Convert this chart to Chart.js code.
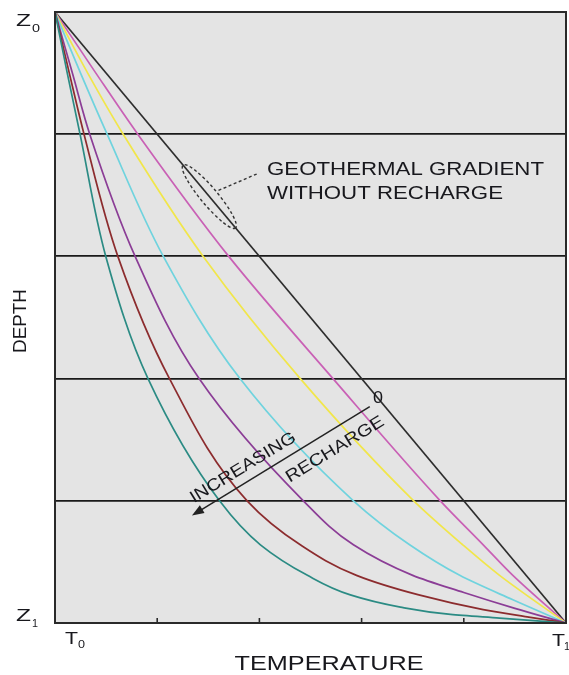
<!DOCTYPE html>
<html>
<head>
<meta charset="utf-8">
<script src="https://cdn.jsdelivr.net/npm/chart.js@4.4.1/dist/chart.umd.min.js"></script>
<style>
  body { margin: 0; background: #fff; }
  #wrap { width: 569px; height: 675px; position: relative; }
</style>
</head>
<body>
<div id="wrap"><canvas id="grafica"></canvas></div>
<script>
// depth (0 = Z0, 5 = Z1) and temperature (0 = T0, 5 = T1)
var depthTeal = [0, 0.5, 1, 2, 3, 4, 4.36, 4.61, 4.77, 4.87, 4.93, 4.96, 5];
var tempTeal  = [0, 0.12, 0.245, 0.497, 0.91, 1.61, 2.01, 2.47, 2.89, 3.38, 3.87, 4.35, 5];

var depthBrown = [0, 0.5, 1, 2, 3, 4, 4.36, 4.61, 4.77, 4.89, 4.95, 5];
var tempBrown  = [0, 0.14, 0.284, 0.615, 1.12, 1.88, 2.4, 2.95, 3.56, 4.19, 4.62, 5];

var depthPurple = [0, 0.5, 1, 2, 3, 4, 4.36, 4.61, 4.75, 4.88, 5];
var tempPurple  = [0, 0.17, 0.34, 0.784, 1.41, 2.43, 2.92, 3.5, 4.0, 4.5, 5];

var depthCyan = [0, 0.5, 1, 2, 3, 4, 4.36, 4.61, 4.81, 5];
var tempCyan  = [0, 0.25, 0.51, 1.06, 1.81, 2.92, 3.47, 3.96, 4.48, 5];

var depthYellow = [0, 0.5, 1, 2, 3, 4, 4.36, 4.61, 5];
var tempYellow  = [0, 0.32, 0.667, 1.45, 2.4, 3.51, 3.99, 4.35, 5];

var depthMagenta = [0, 0.5, 1, 2, 3, 4, 4.36, 4.61, 5];
var tempMagenta  = [0, 0.4, 0.81, 1.7, 2.72, 3.77, 4.19, 4.48, 5];

var depthBlack = [0, 5];
var tempBlack  = [0, 5];

function pts(depth, temp) {
  var out = [];
  for (var i = 0; i < depth.length; i++) {
    out.push({ x: temp[i], y: depth[i] });
  }
  return out;
}

function curve(depth, temp, color) {
  return {
    data: pts(depth, temp),
    showLine: true,
    borderColor: color,
    borderWidth: 1.7,
    pointRadius: 0,
    cubicInterpolationMode: 'monotone',
    fill: false
  };
}

var FONT = '"Liberation Sans", Arial, sans-serif';
var INK = '#18181d';

// text helper: stretches the text to a given width like in the scanned figure
function txt(ctx, s, x, y, size, width, align, base, rot) {
  ctx.font = size + 'px ' + FONT;
  var w = ctx.measureText(s).width;
  var sx = width ? width / w : 1;
  ctx.save();
  ctx.translate(x, y);
  if (rot) ctx.rotate(rot);
  ctx.scale(sx, 1);
  ctx.textAlign = align || 'left';
  ctx.textBaseline = base || 'alphabetic';
  ctx.fillStyle = INK;
  ctx.fillText(s, 0, 0);
  ctx.restore();
}

var decor = {
  id: 'decor',
  beforeDraw: function(chart) {
    var a = chart.chartArea, ctx = chart.ctx;
    ctx.save();
    ctx.fillStyle = '#e4e4e4';
    ctx.fillRect(a.left, a.top, a.right - a.left, a.bottom - a.top);
    ctx.restore();
  },
  afterDraw: function(chart) {
    var a = chart.chartArea, ctx = chart.ctx;
    var xs = chart.scales.x, ys = chart.scales.y;
    function px(t) { return xs.getPixelForValue(t); }
    function py(d) { return ys.getPixelForValue(d); }

    ctx.save();
    // frame
    ctx.strokeStyle = '#2a2a2a';
    ctx.lineWidth = 2;
    ctx.strokeRect(a.left, a.top, a.right - a.left, a.bottom - a.top);
    // small inner ticks on the temperature axis
    ctx.lineWidth = 1.6;
    for (var t = 1; t <= 4; t++) {
      ctx.beginPath();
      ctx.moveTo(px(t), a.bottom);
      ctx.lineTo(px(t), a.bottom - 5);
      ctx.stroke();
    }

    // dashed ellipse around the straight gradient
    var ang = Math.atan2(py(1) - py(0), px(1) - px(0));
    ctx.setLineDash([3, 2.5]);
    ctx.strokeStyle = '#333';
    ctx.lineWidth = 1.4;
    ctx.beginPath();
    ctx.ellipse(px(1.51), py(1.51), 41, 8.5, ang, 0, Math.PI * 2);
    ctx.stroke();
    ctx.beginPath();
    ctx.moveTo(px(1.6), py(1.46));
    ctx.lineTo(px(1.99), py(1.32));
    ctx.stroke();
    ctx.setLineDash([]);

    // arrow "increasing recharge"
    var x0 = px(3.08), y0 = py(3.23), x1 = px(1.34), y1 = py(4.12);
    var aa = Math.atan2(y1 - y0, x1 - x0);
    ctx.strokeStyle = '#222';
    ctx.fillStyle = '#222';
    ctx.lineWidth = 1.5;
    ctx.beginPath();
    ctx.moveTo(x0, y0);
    ctx.lineTo(x1 - 8 * Math.cos(aa), y1 - 8 * Math.sin(aa));
    ctx.stroke();
    ctx.beginPath();
    ctx.moveTo(x1, y1);
    ctx.lineTo(x1 - 12 * Math.cos(aa) + 4.5 * Math.sin(aa), y1 - 12 * Math.sin(aa) - 4.5 * Math.cos(aa));
    ctx.lineTo(x1 - 12 * Math.cos(aa) - 4.5 * Math.sin(aa), y1 - 12 * Math.sin(aa) + 4.5 * Math.cos(aa));
    ctx.closePath();
    ctx.fill();
    ctx.restore();

    var rot = aa - Math.PI;
    txt(ctx, '0', px(3.16), py(3.16), 17, 10, 'center', 'middle');
    txt(ctx, 'INCREASING', px(1.84), py(3.73), 17, 121, 'center', 'middle', rot);
    txt(ctx, 'RECHARGE', px(2.74), py(3.58), 17, 112, 'center', 'middle', rot);

    txt(ctx, 'GEOTHERMAL GRADIENT', 267, 175, 18.5, 277);
    txt(ctx, 'WITHOUT RECHARGE', 267, 199, 18.5, 236);

    // axis labels
    txt(ctx, 'Z', 16, 26, 16.5, 15);
    txt(ctx, '0', 32, 32, 11, 8);
    txt(ctx, 'Z', 16, 621, 16.5, 15);
    txt(ctx, '1', 32, 627, 11, 6);
    txt(ctx, 'T', 65, 644, 17, 13);
    txt(ctx, '0', 78, 648, 11, 7);
    txt(ctx, 'T', 552, 646, 17, 13);
    txt(ctx, '1', 564, 650, 11, 6);
    txt(ctx, 'TEMPERATURE', 329, 670, 21, 189, 'center');
    txt(ctx, 'DEPTH', 21, 321, 19, 64, 'center', 'middle', -Math.PI / 2);
  }
};

var ctx = document.getElementById('grafica').getContext('2d');
var chart = new Chart(ctx, {
  type: 'scatter',
  data: {
    datasets: [
      curve(depthTeal, tempTeal, '#2b8b84'),
      curve(depthBrown, tempBrown, '#8c2c2e'),
      curve(depthPurple, tempPurple, '#8b3d96'),
      curve(depthCyan, tempCyan, '#6fd3de'),
      curve(depthYellow, tempYellow, '#f1e64a'),
      curve(depthMagenta, tempMagenta, '#c960b5'),
      curve(depthBlack, tempBlack, '#2d2d2d')
    ]
  },
  options: {
    indexAxis: 'y',
    responsive: true,
    maintainAspectRatio: false,
    animation: false,
    layout: { padding: { left: 55, top: 12, right: 3, bottom: 52 } },
    plugins: { legend: { display: false }, tooltip: { enabled: false } },
    scales: {
      x: {
        type: 'linear',
        min: 0,
        max: 5,
        ticks: { display: false, stepSize: 1 },
        grid: { display: false, drawTicks: false },
        border: { display: false }
      },
      y: {
        type: 'linear',
        min: 0,
        max: 5,
        reverse: true,
        ticks: { display: false, stepSize: 1 },
        grid: { color: '#1a1a1a', lineWidth: 1.8, drawTicks: false },
        border: { display: false }
      }
    }
  },
  plugins: [decor]
});
</script>
</body>
</html>
